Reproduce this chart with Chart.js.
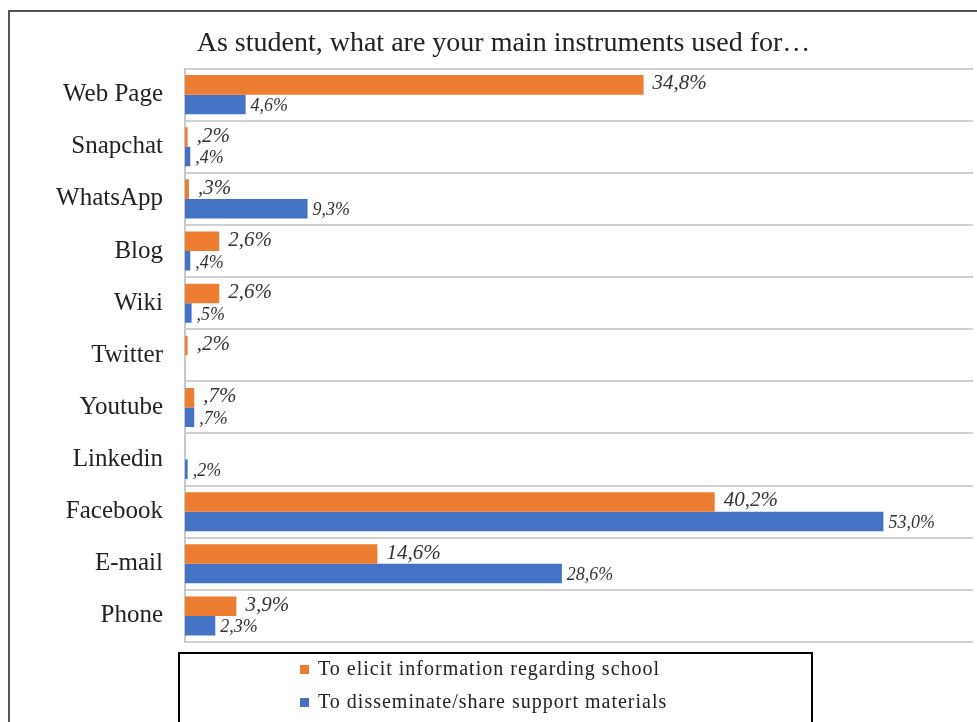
<!DOCTYPE html>
<html lang="en">
  <head>
    <meta charset="UTF-8" />
    <title>Main instruments used by students</title>
    <script src="https://cdn.jsdelivr.net/npm/chart.js"></script>
    <style>
      html, body { margin: 0; padding: 0; background: #fff; }
      .grafico { width: 977px; height: 722px; position: relative; }
    </style>
  </head>
  <body>
    <div class="grafico">
      <canvas id="myCanvas"></canvas>
    </div>
  </body>
</html>
<script>
  // categories (top to bottom)
  const categorias = [
    "Web Page", "Snapchat", "WhatsApp", "Blog", "Wiki", "Twitter",
    "Youtube", "Linkedin", "Facebook", "E-mail", "Phone"
  ];

  // % of students, per use
  const infoEscola = [34.8, 0.2, 0.3, 2.6, 2.6, 0.2, 0.7, null, 40.2, 14.6, 3.9];
  const materiais = [4.6, 0.4, 9.3, 0.4, 0.5, null, 0.7, 0.2, 53.0, 28.6, 2.3];

  const nomesSeries = [
    "To elicit information regarding school",
    "To disseminate/share support materials"
  ];

  const serif = "'Liberation Serif', 'Times New Roman', serif";

  // 34.8 -> "34,8%", 0.2 -> ",2%"
  function formatar(v) {
    let s = v.toFixed(1).replace(".", ",");
    if (s.startsWith("0,")) s = s.slice(1);
    return s + "%";
  }

  // outer frame of the figure
  const moldura = {
    id: "moldura",
    beforeDraw(chart) {
      const ctx = chart.ctx;
      ctx.save();
      ctx.fillStyle = "#fff";
      ctx.fillRect(0, 0, chart.width, chart.height);
      ctx.strokeStyle = "#555";
      ctx.lineWidth = 2;
      ctx.strokeRect(9, 11, chart.width + 20, chart.height + 20);
      ctx.restore();
    }
  };

  // value labels at the end of the bars
  const rotulos = {
    id: "rotulos",
    afterDatasetsDraw(chart) {
      const ctx = chart.ctx;
      ctx.save();
      ctx.fillStyle = "#333";
      ctx.textBaseline = "middle";
      ctx.textAlign = "left";
      chart.data.datasets.forEach((ds, i) => {
        const meta = chart.getDatasetMeta(i);
        ctx.font = i === 0 ? "italic 21px " + serif : "italic 18px " + serif;
        meta.data.forEach((bar, j) => {
          const v = ds.data[j];
          if (v == null) return;
          const off = i === 0 ? 9 : 5;
          ctx.fillText(formatar(v), bar.x + off, bar.y + (i === 0 ? -1 : 2));
        });
      });
      ctx.restore();
    }
  };

  // boxed legend under the plot
  const legendaCaixa = {
    id: "legendaCaixa",
    afterDraw(chart) {
      const ctx = chart.ctx;
      ctx.save();
      ctx.strokeStyle = "#000";
      ctx.lineWidth = 2;
      ctx.strokeRect(179, 653, 633, 90);
      ctx.font = "20px " + serif;
      ctx.letterSpacing = "1px";
      ctx.textBaseline = "middle";
      ctx.textAlign = "left";
      chart.data.datasets.forEach((ds, i) => {
        const y = 669 + i * 33;
        ctx.fillStyle = ds.backgroundColor;
        ctx.fillRect(300, y - 4, 9, 9);
        ctx.fillStyle = "#222";
        ctx.fillText(ds.label, 318, y + 1);
      });
      ctx.restore();
    }
  };

  const config = {
    type: "bar",
    data: {
      labels: categorias,
      datasets: [
        {
          label: nomesSeries[0],
          data: infoEscola,
          backgroundColor: "#ED7D31",
          categoryPercentage: 0.75,
          barPercentage: 1
        },
        {
          label: nomesSeries[1],
          data: materiais,
          backgroundColor: "#4472C4",
          categoryPercentage: 0.75,
          barPercentage: 1
        }
      ]
    },
    options: {
      indexAxis: "y",
      responsive: true,
      maintainAspectRatio: false,
      animation: false,
      layout: { padding: { top: 27, left: 34, right: 4, bottom: 80 } },
      scales: {
        x: {
          display: false,
          min: 0,
          max: 59.8
        },
        y: {
          afterFit(s) { s.width = 151; },
          border: { display: true, color: "#c8c8c8", width: 2 },
          grid: {
            offset: true,
            color: "#d0d0d0",
            lineWidth: 2,
            drawTicks: false
          },
          ticks: {
            color: "#222",
            padding: 22,
            font: { family: serif, size: 25 }
          }
        }
      },
      plugins: {
        legend: { display: false },
        tooltip: { enabled: false },
        title: {
          display: true,
          text: "As student, what are your main instruments used for…",
          color: "#222",
          font: { family: serif, size: 28, weight: "normal" },
          padding: { top: 0, bottom: 8 }
        }
      }
    },
    plugins: [moldura, rotulos, legendaCaixa]
  };

  const myChart = new Chart(document.getElementById("myCanvas"), config);
</script>
